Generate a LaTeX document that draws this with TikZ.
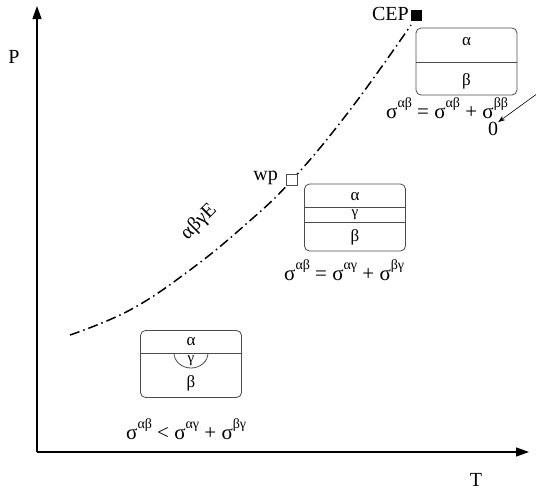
\documentclass[tikz,border=0pt]{standalone}
\usepackage{fontspec}
\setmainfont{Liberation Serif}
\usetikzlibrary{arrows.meta}
\newcommand\sgm[1]{σ\raisebox{0.5em}{\fontsize{14}{14}\selectfont #1}}
\begin{document}
\begin{tikzpicture}[x=1pt,y=-1pt,
  axis/.style={line width=1.2pt,-{Triangle[length=13pt,width=9pt]}},
  lbl/.style={inner sep=0pt,font=\fontsize{20}{24}\selectfont},
  boxlbl/.style={inner sep=0pt,font=\fontsize{17}{20}\selectfont},
  glbl/.style={inner sep=0pt,font=\fontsize{15}{18}\selectfont},
  formula/.style={inner sep=0pt,anchor=west,font=\fontsize{21}{24}\selectfont},
  phasebox/.style={draw=black!70,line width=0.8pt,rounded corners=5pt,minimum width=101pt,minimum height=67pt,inner sep=0pt},
  divider/.style={draw=black!70,line width=0.8pt},
  dashdot/.style={line width=1.5pt,dash pattern=on 10pt off 4pt on 1.5pt off 4pt},
  pt/.style={minimum size=11pt,inner sep=0pt,line width=0.7pt}]
\clip (0,0) rectangle (536,493);
\useasboundingbox (0,0) rectangle (536,493);
% axes
\coordinate (O) at (37,452);
\coordinate (Ptip) at (37,6);
\coordinate (Ttip) at (529,452);
\draw[axis] (O) -- (Ptip);
\draw[axis] (O) -- (Ttip);
\node[lbl] (P) at (14,57) {P};
\node[lbl] (T) at (476,480) {T};
% coexistence curve
\draw[dashdot] plot[smooth,tension=0.7] coordinates {(70,335) (130,310) (190,270) (245,225) (292,180) (350,110) (411,25)};
\node[pt,draw=black!70,fill=white] (wp) at (292,180) {};
\node[pt,fill=black] (cep) at (416,15) {};
\node[lbl,anchor=east] (wplbl) at (278,178) {wp};
\node[lbl,anchor=east] (ceplbl) at (409,14) {CEP};
\node[lbl,rotate=45] (curvelbl) at (199,222) {αβγE};
% box 1
\node[phasebox] (b1) at (466.5,61.5) {};
\draw[divider] (b1.west |- 0,62) -- (b1.east |- 0,62);
\node[boxlbl] (b1a) at (466.5,42) {α};
\node[boxlbl] (b1b) at (466.5,81) {β};
\node[formula] (f1) at (386,108) {\sgm{αβ} = \sgm{αβ} + \sgm{ββ}};
\node[lbl] (zero) at (493,129) {0};
\coordinate (a0) at (545,88);
\draw[line width=0.6pt,-{Stealth[length=7pt,width=5pt]}] (a0) -- (zero.north east);
% box 2
\node[phasebox] (b2) at (355,217.5) {};
\draw[divider] (b2.west |- 0,207) -- (b2.east |- 0,207);
\draw[divider] (b2.west |- 0,222) -- (b2.east |- 0,222);
\node[boxlbl] (b2a) at (355,197) {α};
\node[glbl] (b2g) at (355,214.5) {γ};
\node[boxlbl] (b2b) at (355,237) {β};
\node[formula] (f2) at (284,270) {\sgm{αβ} = \sgm{αγ} + \sgm{βγ}};
% box 3
\node[phasebox] (b3) at (191,364) {};
\draw[divider] (b3.west |- 0,353) -- (b3.east |- 0,353);
\draw[divider] (174,353) arc[start angle=180,end angle=360,x radius=17pt,y radius=15pt];
\node[boxlbl] (b3a) at (191,342) {α};
\node[glbl] (b3g) at (191,361) {γ};
\node[boxlbl] (b3b) at (191,383) {β};
\node[formula] (f3) at (126,429) {\sgm{αβ} < \sgm{αγ} + \sgm{βγ}};
\end{tikzpicture}
\end{document}
